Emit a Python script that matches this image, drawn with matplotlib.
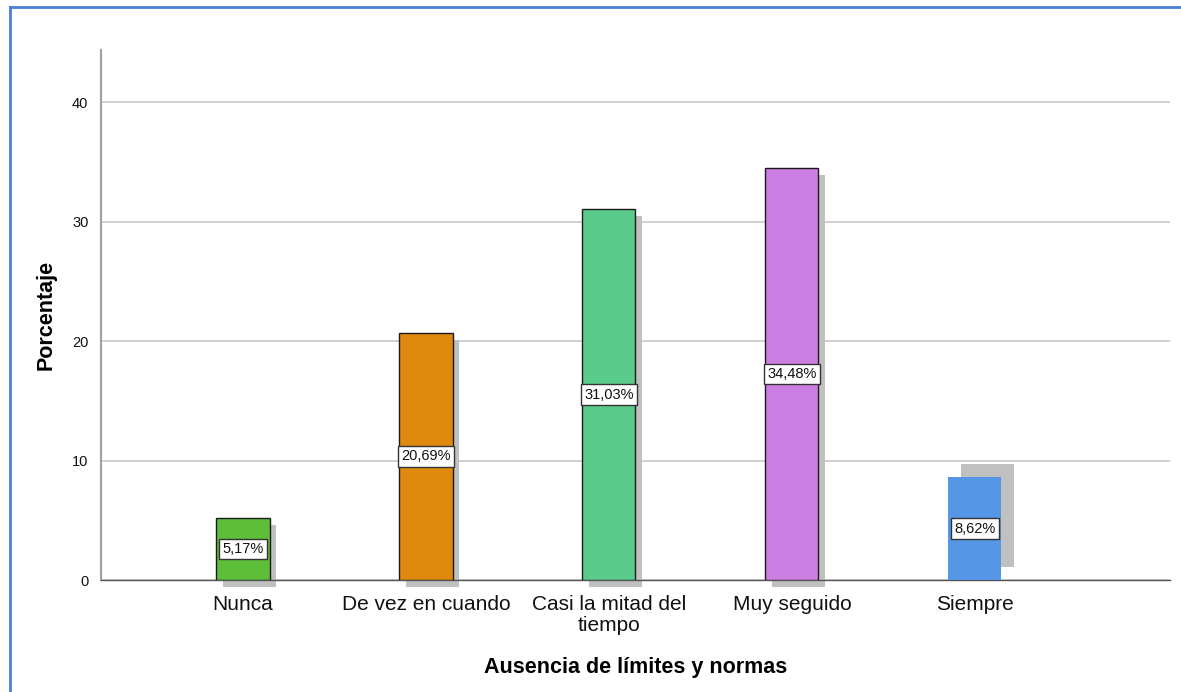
import matplotlib.pyplot as plt
from matplotlib.lines import Line2D

plt.rcParams['font.family'] = ['Liberation Sans', 'DejaVu Sans']

categorias = ["Nunca", "De vez en cuando", "Casi la mitad del\ntiempo", "Muy seguido", "Siempre"]
porcentajes = [5.17, 20.69, 31.03, 34.48, 8.62]
etiquetas = ["5,17%", "20,69%", "31,03%", "34,48%", "8,62%"]

colores = ["#5dbe3a", "#e0890f", "#5bcb8b", "#cb7fe3", "#5596e6"]
bordes = ["#1a1a1a", "#1a1a1a", "#1a1a1a", "#1a1a1a", "none"]
# desplazamiento de la sombra (en unidades de datos)
sombra_dx = [0.038, 0.038, 0.038, 0.038, 0.071]
sombra_dy = [-0.59, -0.59, -0.59, -0.59, 1.13]

fig = plt.figure(figsize=(11.81, 6.92), dpi=100)
ax = fig.add_axes([0.0855, 0.1618, 0.9052, 0.7659])

x = list(range(len(categorias)))
ancho = 0.29

for i in x:
    ax.bar(i + sombra_dx[i], porcentajes[i], width=ancho, bottom=sombra_dy[i],
           color="#c0c0c0", edgecolor="none", zorder=2, clip_on=False)
    ax.bar(i, porcentajes[i], width=ancho, color=colores[i],
           edgecolor=bordes[i], linewidth=1.0, zorder=3)
    ax.text(i, porcentajes[i] / 2, etiquetas[i], ha="center", va="center",
            fontsize=10.5, color="#111111", zorder=4,
            bbox=dict(boxstyle="square,pad=0.22", facecolor="white",
                      edgecolor="#333333", linewidth=1.0))

ax.set_xlim(-0.776, 5.066)
ax.set_ylim(0, 44.35)
ax.set_yticks([0, 10, 20, 30, 40])
ax.set_yticklabels(["0", "10", "20", "30", "40"], fontsize=10.5, color="#111111")
ax.set_xticks(x)
ax.set_xticklabels(categorias, fontsize=15, linespacing=1.1, color="#111111")
ax.tick_params(axis="both", length=0)
ax.tick_params(axis="x", pad=11)
ax.tick_params(axis="y", pad=9)

ax.yaxis.grid(True, color="#c8c8c8", linewidth=1.2, zorder=0)
ax.set_axisbelow(True)

for s in ["top", "right"]:
    ax.spines[s].set_visible(False)
ax.spines["left"].set_color("#a0a0a0")
ax.spines["left"].set_linewidth(1.5)
ax.spines["bottom"].set_color("#555555")
ax.spines["bottom"].set_linewidth(1.0)

ax.set_ylabel("Porcentaje", fontsize=15.5, fontweight="bold", labelpad=11)
ax.set_xlabel("Ausencia de límites y normas", fontsize=15.5, fontweight="bold", labelpad=16)

# marco azul
fig.add_artist(Line2D([0.0085, 0.0085], [0, 0.99], color="#4a7fd8", linewidth=2))
fig.add_artist(Line2D([0.0085, 1], [0.99, 0.99], color="#4a7fd8", linewidth=2))

fig.savefig("out.png", dpi=100)
